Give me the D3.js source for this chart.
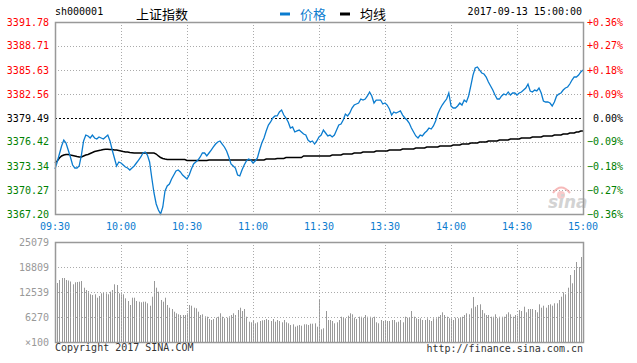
<!DOCTYPE html>
<html>
<head>
<meta charset="utf-8">
<script src="https://cdn.jsdelivr.net/npm/d3@7"></script>
<style>
  body { margin: 0; background: #fff; }
  text { font-family: "DejaVu Sans Mono", monospace; font-size: 10px; }
</style>
</head>
<body>
<svg id="chart" width="637" height="363"></svg>
<script>
const preClose = 3379.49;
const priceTicks = [3391.78, 3388.71, 3385.63, 3382.56, 3379.49, 3376.42, 3373.34, 3370.27, 3367.20];
const volTicks = [25079, 18809, 12539, 6270];
const timeLabels = ["09:30", "10:00", "10:30", "11:00", "11:30", "13:30", "14:00", "14:30", "15:00"];

// one point per minute, 09:30-11:30 then 13:01-15:00
const price = [
  3372.96, 3373.86, 3374.88, 3375.91, 3376.67, 3376.29, 3375.39, 3374.50, 3373.47, 3373.09,
  3373.09, 3373.35, 3374.75, 3376.55, 3377.31, 3377.19, 3376.93, 3377.31, 3376.93, 3376.80,
  3377.06, 3376.93, 3376.80, 3377.06, 3377.31, 3376.55, 3375.39, 3374.37, 3373.35, 3373.86,
  3373.73, 3373.47, 3373.22, 3373.09, 3372.83, 3373.09, 3373.35, 3373.73, 3374.11, 3374.50,
  3375.01, 3375.14, 3374.75, 3373.86, 3371.81, 3369.89, 3368.48, 3367.71, 3367.20, 3368.10,
  3370.15, 3370.79, 3371.04, 3371.68, 3372.19, 3372.71, 3372.83, 3372.58, 3372.19, 3371.94,
  3371.68, 3372.19, 3372.96, 3373.60, 3373.86, 3374.11, 3374.50, 3375.01, 3375.01, 3374.63,
  3375.01, 3375.39, 3375.78, 3376.16, 3376.42, 3376.55, 3376.16, 3375.78, 3375.27, 3374.50,
  3373.60, 3373.35, 3373.09, 3372.19, 3372.07, 3372.83, 3373.47, 3373.99, 3374.24, 3374.11,
  3373.73, 3373.99, 3374.37, 3375.39, 3376.29, 3376.93, 3377.83, 3378.59, 3378.98, 3379.49,
  3379.75, 3379.75, 3380.26, 3380.51, 3379.87, 3379.49, 3378.98, 3378.21, 3378.34, 3377.70,
  3377.83, 3377.95, 3377.70, 3377.44, 3377.31, 3376.67, 3376.42, 3376.55, 3376.16, 3376.55,
  3377.06, 3377.31, 3377.95, 3377.57, 3377.19, 3377.31, 3377.06, 3377.31, 3377.95, 3378.59,
  3378.72, 3379.23, 3380.00, 3379.75, 3380.13, 3380.77, 3381.15, 3381.28, 3381.41, 3381.92,
  3381.79, 3381.92, 3382.31, 3382.82, 3382.31, 3381.41, 3381.79, 3381.79, 3381.79, 3381.28,
  3381.41, 3381.15, 3380.64, 3379.87, 3380.26, 3380.13, 3380.26, 3380.39, 3379.87, 3379.49,
  3379.23, 3378.85, 3378.21, 3377.70, 3377.19, 3376.93, 3377.31, 3377.19, 3377.57, 3377.83,
  3378.21, 3378.08, 3378.47, 3379.11, 3380.00, 3380.64, 3381.15, 3381.54, 3381.92, 3382.69,
  3381.03, 3380.77, 3380.77, 3381.03, 3381.41, 3381.15, 3381.79, 3381.54, 3382.31, 3383.59,
  3384.99, 3385.89, 3386.02, 3385.63, 3385.25, 3385.12, 3384.74, 3384.10, 3383.59, 3383.07,
  3382.43, 3381.92, 3381.92, 3382.31, 3382.56, 3382.43, 3382.82, 3382.43, 3382.69, 3382.69,
  3382.43, 3382.69, 3382.82, 3383.07, 3383.33, 3383.84, 3382.95, 3382.82, 3383.07, 3382.95,
  3383.33, 3382.69, 3381.67, 3381.54, 3381.54, 3381.41, 3381.03, 3381.54, 3382.31, 3382.56,
  3382.69, 3383.07, 3383.33, 3383.46, 3383.84, 3384.35, 3384.74, 3384.74, 3384.99, 3385.38,
  3385.63
];

const avgPrice = [
  3373.73, 3373.99, 3374.37, 3374.63, 3374.75, 3374.82, 3374.82, 3374.75, 3374.69, 3374.63,
  3374.56, 3374.50, 3374.50, 3374.63, 3374.75, 3374.82, 3374.95, 3375.07, 3375.20, 3375.27,
  3375.33, 3375.39, 3375.46, 3375.48, 3375.48, 3375.46, 3375.46, 3375.39, 3375.39, 3375.33,
  3375.27, 3375.20, 3375.14, 3375.14, 3375.07, 3375.05, 3375.01, 3375.01, 3375.01, 3375.01,
  3375.01, 3375.01, 3375.01, 3375.01, 3375.01, 3375.01, 3374.88, 3374.63, 3374.43, 3374.31,
  3374.24, 3374.18, 3374.18, 3374.18, 3374.18, 3374.18, 3374.18, 3374.18, 3374.18, 3374.18,
  3374.05, 3374.05, 3374.05, 3374.05, 3374.05, 3374.05, 3374.05, 3374.05, 3374.05, 3374.05,
  3374.11, 3374.11, 3374.11, 3374.11, 3374.11, 3374.11, 3374.11, 3374.11, 3374.11, 3374.11,
  3374.11, 3374.11, 3374.11, 3374.11, 3374.11, 3374.11, 3374.11, 3374.11, 3374.11, 3374.11,
  3374.11, 3374.11, 3374.11, 3374.11, 3374.11, 3374.11, 3374.24, 3374.24, 3374.24, 3374.24,
  3374.24, 3374.31, 3374.31, 3374.31, 3374.31, 3374.43, 3374.43, 3374.43, 3374.43, 3374.43,
  3374.43, 3374.43, 3374.43, 3374.63, 3374.63, 3374.63, 3374.63, 3374.63, 3374.63, 3374.63,
  3374.63, 3374.63, 3374.63, 3374.63, 3374.63, 3374.63, 3374.75, 3374.75, 3374.75, 3374.75,
  3374.75, 3374.88, 3374.88, 3374.88, 3374.88, 3374.88, 3375.01, 3375.01, 3375.01, 3375.01,
  3375.14, 3375.14, 3375.14, 3375.14, 3375.14, 3375.14, 3375.27, 3375.27, 3375.27, 3375.27,
  3375.27, 3375.27, 3375.39, 3375.39, 3375.39, 3375.39, 3375.39, 3375.39, 3375.52, 3375.52,
  3375.52, 3375.52, 3375.52, 3375.52, 3375.65, 3375.65, 3375.65, 3375.65, 3375.65, 3375.78,
  3375.78, 3375.78, 3375.78, 3375.78, 3375.78, 3375.91, 3375.91, 3375.91, 3375.91, 3375.91,
  3375.91, 3376.03, 3376.03, 3376.03, 3376.03, 3376.16, 3376.16, 3376.16, 3376.16, 3376.29,
  3376.29, 3376.29, 3376.29, 3376.42, 3376.42, 3376.42, 3376.42, 3376.55, 3376.55, 3376.55,
  3376.55, 3376.55, 3376.67, 3376.67, 3376.67, 3376.67, 3376.67, 3376.80, 3376.80, 3376.80,
  3376.80, 3376.80, 3376.93, 3376.93, 3376.93, 3376.93, 3376.93, 3377.06, 3377.06, 3377.06,
  3377.06, 3377.06, 3377.19, 3377.19, 3377.19, 3377.19, 3377.19, 3377.31, 3377.31, 3377.31,
  3377.31, 3377.44, 3377.44, 3377.44, 3377.57, 3377.57, 3377.57, 3377.70, 3377.70, 3377.83,
  3377.83
];

// volume in lots of 100
const volume = [
  14471, 14797, 15550, 16051, 16051, 15550, 15424, 15173, 14471, 14973,
  15048, 15123, 15299, 13618, 13042, 12791, 11963, 11788, 11963, 11110,
  11537, 12214, 12364, 12214, 11963, 12615, 13042, 14471, 14296, 12214,
  11963, 11963, 10960, 10283, 9280, 11110, 11110, 10283, 10107, 9957,
  10107, 10107, 9706, 9104, 11361, 15299, 13618, 12615, 10534, 10107,
  11110, 9280, 8602, 8276, 7599, 7198, 6947, 6772, 6772, 6772,
  7198, 9280, 9104, 8602, 8452, 7599, 6772, 6947, 6446, 6345,
  5768, 5518, 5768, 6094, 6345, 7198, 6345, 5944, 6094, 6446,
  6772, 7198, 6772, 8026, 8602, 7775, 8276, 6345, 5091, 4941,
  5267, 4690, 4941, 5267, 5442, 5518, 5768, 5518, 5267, 5768,
  5091, 5518, 5267, 4941, 5518, 4941, 4690, 4264, 4439, 3837,
  4088, 4264, 4088, 4439, 4439, 4264, 4590, 4590, 4690, 3837,
  10534, 3185, 3436, 7775, 5518, 5518, 5267, 4690, 4941, 5518,
  6345, 6094, 5944, 6596, 7198, 6947, 6094, 5768, 6345, 6345,
  6094, 6772, 6345, 6345, 6094, 6345, 4941, 4690, 5518, 5267,
  5518, 5267, 5267, 5518, 5518, 4941, 5091, 5518, 4941, 6345,
  6094, 6094, 7775, 6345, 5944, 5768, 5944, 5518, 5518, 5944,
  5518, 5267, 5944, 5944, 6345, 6772, 7449, 6772, 6345, 5944,
  5944, 5518, 6094, 5944, 6094, 6345, 6772, 7198, 6947, 8452,
  11286, 8853, 9280, 9455, 8026, 7198, 6772, 6772, 6345, 6345,
  6947, 5944, 6345, 6345, 6345, 6947, 7449, 6947, 6345, 6772,
  6596, 8026, 7775, 8853, 7449, 8276, 8276, 8276, 8026, 7449,
  9455, 8602, 9104, 8602, 9280, 9455, 9104, 9706, 9706, 10534,
  11361, 12465, 11963, 13618, 16804, 14722, 18058, 20064, 18810, 21318,
  22572
];

const left = 55, right = 583;
const priceTop = 22, priceBottom = 214;
const volTop = 242, volBottom = 342;
const red = "#ff0000", green = "#008000", blue = "#0b7ccf", gridColor = "#aaa", frameColor = "#999";

const svg = d3.select("#chart");

const x = d3.scaleLinear().domain([0, 240]).range([left, right]);
const y = d3.scaleLinear().domain([priceTicks[priceTicks.length - 1], priceTicks[0]]).range([priceBottom, priceTop]);
const yVol = d3.scaleLinear().domain([0, volTicks[0]]).range([volBottom, volTop]);
const pct = d3.format("+.2f");

// header
svg.append("text").attr("x", 55).attr("y", 15).attr("fill", "#000").text("sh000001");
svg.append("text").attr("x", 136).attr("y", 19)
  .style("font-family", "'Noto Sans CJK SC', sans-serif").style("font-size", "13px")
  .attr("fill", "#000").text("上证指数");
svg.append("line").attr("x1", 280).attr("x2", 290).attr("y1", 14).attr("y2", 14)
  .attr("stroke", blue).attr("stroke-width", 3);
svg.append("text").attr("x", 300).attr("y", 19)
  .style("font-family", "'Noto Sans CJK SC', sans-serif").style("font-size", "13px")
  .attr("fill", blue).text("价格");
svg.append("line").attr("x1", 340).attr("x2", 350).attr("y1", 14).attr("y2", 14)
  .attr("stroke", "#000").attr("stroke-width", 3);
svg.append("text").attr("x", 360).attr("y", 19)
  .style("font-family", "'Noto Sans CJK SC', sans-serif").style("font-size", "13px")
  .attr("fill", "#000").text("均线");
svg.append("text").attr("x", 582).attr("y", 15).attr("text-anchor", "end")
  .attr("fill", "#000").text("2017-09-13 15:00:00");

// price grid
const grid = svg.append("g");
grid.selectAll("line.h").data(priceTicks.slice(1, -1)).join("line")
  .attr("x1", left).attr("x2", right)
  .attr("y1", d => Math.round(y(d)) + 0.5).attr("y2", d => Math.round(y(d)) + 0.5)
  .attr("stroke", d => d === preClose ? "#000" : gridColor)
  .attr("stroke-dasharray", d => d === preClose ? "2,2" : "1,2");
grid.selectAll("line.v").data(d3.range(30, 240, 30)).join("line")
  .attr("x1", d => Math.round(x(d)) + 0.5).attr("x2", d => Math.round(x(d)) + 0.5)
  .attr("y1", priceTop).attr("y2", priceBottom)
  .attr("stroke", gridColor).attr("stroke-dasharray", "1,2");

// watermark
const wm = svg.append("g").attr("opacity", 0.55);
wm.append("path").attr("d", "M553,193 Q561,182 570,193").attr("fill", "none").attr("stroke", "#f08080").attr("stroke-width", 2);
wm.append("circle").attr("cx", 561).attr("cy", 195).attr("r", 4).attr("fill", "#f4a0a0");
wm.append("text").attr("x", 548).attr("y", 208)
  .style("font-family", "'DejaVu Sans', sans-serif").style("font-size", "17px")
  .style("font-style", "italic").style("font-weight", "bold")
  .attr("fill", "#b0b0b0").text("sina");

// lines
svg.append("path").datum(avgPrice)
  .attr("fill", "none").attr("stroke", "#000").attr("stroke-width", 1.5)
  .attr("d", d3.line().x((d, i) => x(i)).y(d => y(d)));
svg.append("path").datum(price)
  .attr("fill", "none").attr("stroke", blue).attr("stroke-width", 1.3)
  .attr("d", d3.line().x((d, i) => x(i)).y(d => y(d)));

// price frame
svg.append("rect").attr("x", left + 0.5).attr("y", priceTop + 0.5)
  .attr("width", right - left).attr("height", priceBottom - priceTop)
  .attr("fill", "none").attr("stroke", frameColor).attr("stroke-width", 1.5);

// left price labels
svg.append("g").selectAll("text").data(priceTicks).join("text")
  .attr("x", 49).attr("y", d => y(d)).attr("dy", "0.35em").attr("text-anchor", "end")
  .attr("fill", d => d > preClose ? red : d < preClose ? green : "#000")
  .text(d => d.toFixed(2));

// right percent labels
svg.append("g").selectAll("text").data(priceTicks).join("text")
  .attr("x", 623).attr("y", d => y(d)).attr("dy", "0.35em").attr("text-anchor", "end")
  .attr("fill", d => d > preClose ? red : d < preClose ? green : "#000")
  .text(d => {
    const p = (d - preClose) / preClose * 100;
    return (Math.abs(p) < 0.005 ? "0.00" : pct(p)) + "%";
  });

// time labels
svg.append("g").selectAll("text").data(timeLabels).join("text")
  .attr("x", (d, i) => x(i * 30)).attr("y", 226).attr("dy", "0.35em")
  .attr("text-anchor", "middle").attr("fill", blue).text(d => d);

// volume bars
svg.append("g").selectAll("rect").data(volume).join("rect")
  .attr("x", (d, i) => Math.round(x(i)))
  .attr("y", d => yVol(d))
  .attr("width", 1)
  .attr("height", d => volBottom - yVol(d))
  .attr("fill", "#999");

// volume grid (over the bars)
const vgrid = svg.append("g");
vgrid.selectAll("line.h").data(volTicks.slice(1)).join("line")
  .attr("x1", left).attr("x2", right)
  .attr("y1", d => Math.round(yVol(d)) + 0.5).attr("y2", d => Math.round(yVol(d)) + 0.5)
  .attr("stroke", gridColor).attr("stroke-dasharray", "1,2");
vgrid.selectAll("line.v").data(d3.range(30, 240, 30)).join("line")
  .attr("x1", d => Math.round(x(d)) + 0.5).attr("x2", d => Math.round(x(d)) + 0.5)
  .attr("y1", volTop).attr("y2", volBottom)
  .attr("stroke", gridColor).attr("stroke-dasharray", "1,2");

svg.append("rect").attr("x", left + 0.5).attr("y", volTop + 0.5)
  .attr("width", right - left).attr("height", volBottom - volTop)
  .attr("fill", "none").attr("stroke", frameColor).attr("stroke-width", 1.5);

// volume labels
svg.append("g").selectAll("text").data(volTicks.concat(["×100"])).join("text")
  .attr("x", 49).attr("y", (d, i) => volTop + i * 25).attr("dy", "0.35em")
  .attr("text-anchor", "end").attr("fill", "#999").text(d => d);

// footer
svg.append("text").attr("x", 55).attr("y", 347).attr("dy", "0.35em")
  .attr("fill", "#333").text("Copyright 2017 SINA.COM");
svg.append("text").attr("x", 583).attr("y", 348).attr("dy", "0.35em").attr("text-anchor", "end")
  .attr("fill", "#333").text("http://finance.sina.com.cn");
</script>
</body>
</html>
